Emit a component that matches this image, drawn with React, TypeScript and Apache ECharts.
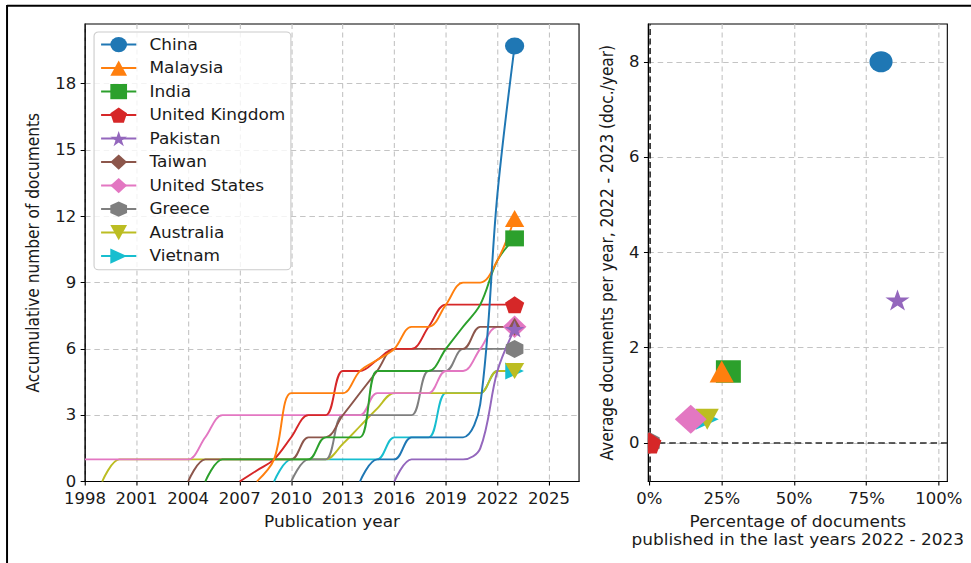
import React, { useEffect, useRef } from "react";
import * as echarts from "echarts";

// ---- data ---------------------------------------------------------------
const countries = [
  "China",
  "Malaysia",
  "India",
  "United Kingdom",
  "Pakistan",
  "Taiwan",
  "United States",
  "Greece",
  "Australia",
  "Vietnam",
];

const years = [
  1998, 1999, 2000, 2001, 2002, 2003, 2004, 2005, 2006, 2007, 2008, 2009, 2010,
  2011, 2012, 2013, 2014, 2015, 2016, 2017, 2018, 2019, 2020, 2021, 2022, 2023,
];

// accumulated documents per year (null = before the first publication)
const N = null;
const chinaCum = [N, N, N, N, N, N, N, N, N, N, N, N, N, N, N, N, 0, 1, 1, 2, 2, 2, 2, 3.5, 13, 19.7];
const malaysiaCum = [N, N, N, N, N, N, N, N, N, N, 0, 1, 4, 4, 4, 4, 5, 5.5, 6, 7, 7, 8, 9, 9, 10, 11.9];
const indiaCum = [N, N, N, N, N, N, N, 0, 1, 1, 1, 1, 1, 1, 2, 2, 2, 5, 5, 5, 5, 6, 7, 8, 10, 11];
const ukCum = [N, N, N, N, N, N, N, N, N, 0, 0.5, 1, 2, 3, 3, 5, 5, 5.5, 6, 6, 7, 8, 8, 8, 8, 8];
const pakistanCum = [N, N, N, N, N, N, N, N, N, N, N, N, N, N, N, N, N, N, 0, 1, 1, 1, 1, 1.5, 5, 6.9];
const taiwanCum = [N, N, N, N, N, N, 0, 1, 1, 1, 1, 1, 1, 2, 2, 3, 4, 5, 6, 6, 6, 6, 6, 7, 7, 7];
const usCum = [1, 1, 1, 1, 1, 1, 1, 2, 3, 3, 3, 3, 3, 3, 3, 3, 3, 4, 4, 4, 4, 5, 5, 6, 7, 7];
const greeceCum = [N, N, N, N, N, N, N, N, N, N, N, N, 0, 1, 1, 3, 3, 3, 3, 3, 5, 5, 6, 6, 6, 6];
const australiaCum = [N, 0, 1, 1, 1, 1, 1, 1, 1, 1, 1, 1, 1, 1, 1, 1.7, 2.5, 3.3, 4, 4, 4, 4, 4, 4, 5, 5];
const vietnamCum = [N, N, N, N, N, N, N, N, N, N, N, 0, 1, 1, 1, 1, 1, 1, 2, 2, 2, 4, 4, 4, 5, 5];

const cumulative = [
  chinaCum, malaysiaCum, indiaCum, ukCum, pakistanCum,
  taiwanCum, usCum, greeceCum, australiaCum, vietnamCum,
];

// share of documents published 2022 - 2023 (%) and yearly average in that window
const shareRecent = [80, 25, 27.3, 0, 85.7, 0, 14.3, 0, 20, 20];
const avgRecent = [8, 1.5, 1.5, 0, 3, 0, 0.5, 0, 0.5, 0.5];

// tick values
const yearTicks = [1998, 2001, 2004, 2007, 2010, 2013, 2016, 2019, 2022, 2025];
const docTicks = [0, 3, 6, 9, 12, 15, 18];
const shareTicks = [0, 25, 50, 75, 100];
const rateTicks = [0, 2, 4, 6, 8];

// ---- styling ------------------------------------------------------------
const colors = [
  "#1f77b4", "#ff7f0e", "#2ca02c", "#d62728", "#9467bd",
  "#8c564b", "#e377c2", "#7f7f7f", "#bcbd22", "#17becf",
];

// marker outlines (unit box, y pointing down)
const SHAPES = [
  "M1,0A1,1,0,1,1,-1,0A1,1,0,1,1,1,0Z", // circle
  "M0,-1L1,1L-1,1Z", // triangle up
  "M-1,-1L1,-1L1,1L-1,1Z", // square
  "M0,-1L0.951,-0.309L0.588,0.809L-0.588,0.809L-0.951,-0.309Z", // pentagon
  "M0,-1L0.2245,-0.309L0.9511,-0.309L0.3633,0.118L0.5878,0.809L0,0.382L-0.5878,0.809L-0.3633,0.118L-0.9511,-0.309L-0.2245,-0.309Z", // star
  "M0,-1L1,0L0,1L-1,0Z", // thin diamond
  "M0,-1L1,0L0,1L-1,0Z", // diamond
  "M0,-1L0.866,-0.5L0.866,0.5L0,1L-0.866,0.5L-0.866,-0.5Z", // hexagon
  "M-1,-1L1,-1L0,1Z", // triangle down
  "M-1,-1L1,0L-1,1Z", // triangle right
];
const LINE_MARK = [
  [17.5, 17], [17.5, 17], [17, 16], [17.5, 17], [18, 17],
  [10, 18], [21.5, 22.5], [16, 18], [17.5, 16], [17, 17],
];
const POINT_MARK = [
  [22, 21], [22.7, 22], [23.4, 22.7], [22, 21], [22, 21],
  [13, 22], [29, 31], [19, 22], [22.7, 21], [21, 22],
];

const S = 1.1; // the figure is drawn slightly wider than tall
const W = Math.round(971 / S);
const FONT = "DejaVu Sans";
const TXT = "#1a1a1a";

const gridLine = { show: true, lineStyle: { color: "#c4c4c4", type: [5, 3.5], width: 1 } };
const tickStyle = (values: number[]) => ({
  show: true,
  inside: false,
  length: 4,
  customValues: values,
  lineStyle: { color: "#000", width: 1 },
});
const labelStyle = (values: number[], margin: number, formatter?: (v: number) => string) => ({
  show: true,
  customValues: values,
  fontFamily: FONT,
  fontSize: 15,
  color: TXT,
  margin,
  ...(formatter ? { formatter } : {}),
});
const nameStyle = { fontFamily: FONT, fontSize: 15.4, color: TXT, lineHeight: 18 };

function buildOption() {
  const lineSeries = countries
    .map((name, i) => {
      const pts = years
        .map((y, k) => [y, cumulative[i][k]])
        .filter((p) => p[1] !== null);
      const last = pts.length - 1;
      return {
        type: "line",
        name,
        xAxisIndex: 0,
        yAxisIndex: 0,
        data: pts.map((p, k) =>
          k === last ? { value: p, symbolSize: LINE_MARK[i] } : { value: p }
        ),
        symbol: "path://" + SHAPES[i],
        symbolSize: 0,
        showSymbol: true,
        showAllSymbol: true,
        smooth: 0.35,
        lineStyle: { width: 1.8, color: colors[i] },
        itemStyle: { color: colors[i] },
        emphasis: { disabled: true },
      };
    })
    .reverse();

  const pointSeries: any[] = countries
    .map((name, i) => ({
      type: "custom",
      name,
      xAxisIndex: 1,
      yAxisIndex: 1,
      clip: true,
      data: [[shareRecent[i], avgRecent[i]]],
      encode: { x: 0, y: 1 },
      renderItem: (_params: any, api: any) => {
        const c = api.coord([api.value(0), api.value(1)]);
        const [w, h] = POINT_MARK[i];
        return {
          type: "path",
          shape: { pathData: SHAPES[i], x: c[0] - w / 2, y: c[1] - h / 2, width: w, height: h },
          style: { fill: colors[i] },
        };
      },
    }))
    .reverse();

  pointSeries[0].markLine = {
    silent: true,
    z: 1,
    symbol: ["none", "none"],
    label: { show: false },
    lineStyle: { color: "#2b2b2b", type: [6, 3.5], width: 1.5 },
    data: [{ yAxis: 0 }, { xAxis: 0 }],
  };

  return {
    animation: false,
    backgroundColor: "#ffffff",
    textStyle: { fontFamily: FONT },
    grid: [
      { left: 77.3, top: 24, width: 449.1, height: 457.5, show: true, borderColor: "#000", borderWidth: 1 },
      { left: 589.4, top: 24, width: 271.8, height: 457.5, show: true, borderColor: "#000", borderWidth: 1 },
    ],
    xAxis: [
      {
        type: "value",
        gridIndex: 0,
        min: 1998,
        max: 2026.75,
        axisLine: { show: true, onZero: false, lineStyle: { color: "#000" } },
        axisTick: tickStyle(yearTicks),
        axisLabel: labelStyle(yearTicks, 10, (v) => String(v)),
        splitLine: gridLine,
        name: "Publication year",
        nameLocation: "middle",
        nameGap: 31,
        nameTextStyle: nameStyle,
      },
      {
        type: "value",
        gridIndex: 1,
        min: -0.34,
        max: 102.9,
        axisLine: { show: true, onZero: false, lineStyle: { color: "#000" } },
        axisTick: tickStyle(shareTicks),
        axisLabel: labelStyle(shareTicks, 10, (v) => `${v}%`),
        splitLine: gridLine,
        name: "Percentage of documents\npublished in the last years 2022 - 2023",
        nameLocation: "middle",
        nameGap: 31,
        nameTextStyle: nameStyle,
      },
    ],
    yAxis: [
      {
        type: "value",
        gridIndex: 0,
        min: 0,
        max: 20.7,
        axisLine: { show: true, onZero: false, lineStyle: { color: "#000" } },
        axisTick: tickStyle(docTicks),
        axisLabel: labelStyle(docTicks, 8),
        splitLine: gridLine,
        name: "Accumulative number of documents",
        nameLocation: "middle",
        nameGap: 38,
        nameTextStyle: nameStyle,
      },
      {
        type: "value",
        gridIndex: 1,
        min: -0.808,
        max: 8.793,
        axisLine: { show: true, onZero: false, lineStyle: { color: "#000" } },
        axisTick: tickStyle(rateTicks),
        axisLabel: labelStyle(rateTicks, 8),
        splitLine: gridLine,
        name: "Average documents per year, 2022 - 2023 (doc./year)",
        nameLocation: "middle",
        nameGap: 28,
        nameTextStyle: nameStyle,
      },
    ],
    legend: {
      data: countries,
      orient: "vertical",
      left: 85.5,
      top: 32,
      padding: [5, 5, 6, 5.4],
      itemWidth: 32,
      itemHeight: 19,
      itemGap: 8.3,
      backgroundColor: "rgba(255,255,255,0.8)",
      borderColor: "#cccccc",
      borderWidth: 1,
      borderRadius: 4,
      selectedMode: false,
      textStyle: { fontFamily: FONT, fontSize: 15.4, color: TXT, padding: [0, 0, 0, 7] },
    },
    graphic: [
      { type: "line", shape: { x1: 6.4, y1: 5.7, x2: W + 10, y2: 5.7 }, style: { stroke: "#000", lineWidth: 2 }, z: 10 },
      { type: "line", shape: { x1: 6.4, y1: 5, x2: 6.4, y2: 580 }, style: { stroke: "#000", lineWidth: 1.8 }, z: 10 },
    ],
    series: [...lineSeries, ...pointSeries],
  };
}

export default function App() {
  const ref = useRef<HTMLDivElement>(null);
  useEffect(() => {
    if (!ref.current) return;
    const chart = echarts.init(ref.current, null, { renderer: "svg" });
    chart.setOption(buildOption() as any);
    return () => chart.dispose();
  }, []);
  return (
    <div
      style={{
        position: "fixed",
        left: 0,
        top: 0,
        width: 971,
        height: 563,
        overflow: "hidden",
        background: "#fff",
      }}
    >
      <div
        ref={ref}
        style={{ width: W, height: 563, transform: `scaleX(${S})`, transformOrigin: "0 0" }}
      />
    </div>
  );
}
